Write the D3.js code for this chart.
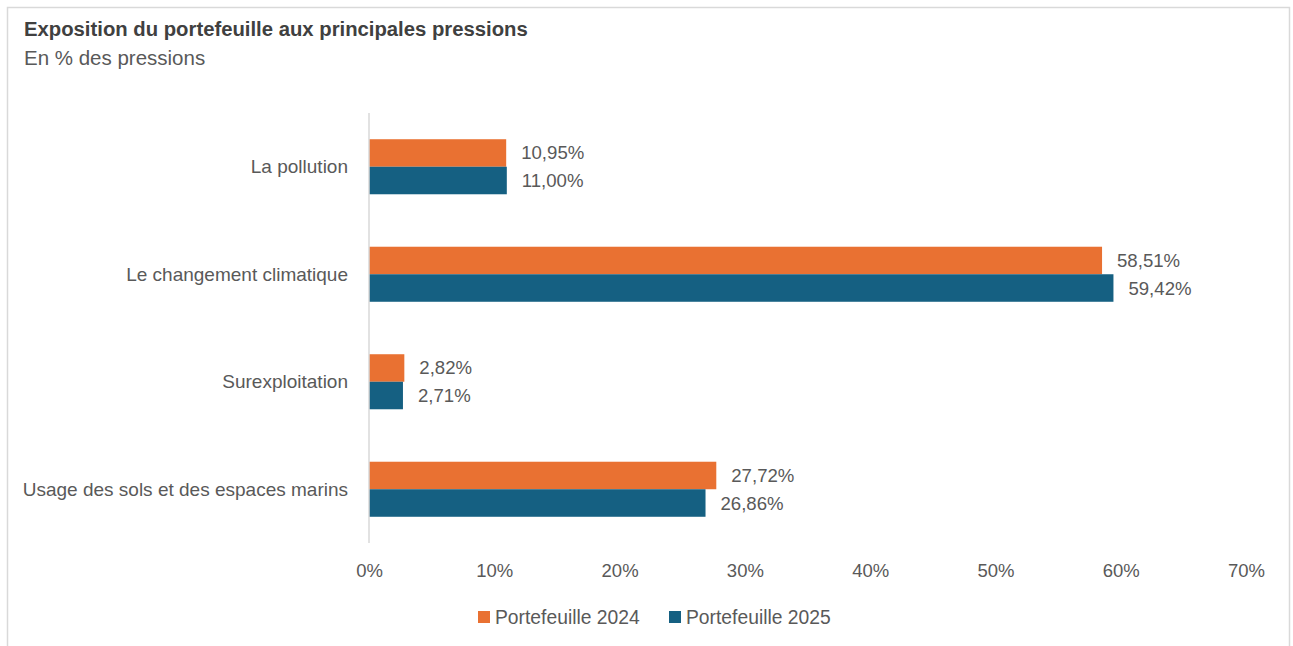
<!DOCTYPE html>
<html>
<head>
<meta charset="utf-8">
<script src="https://cdn.jsdelivr.net/npm/d3@7"></script>
<style>
  body { margin: 0; background: #fff; }
  text { font-family: "Liberation Sans", Arial, sans-serif; fill: #595959; }
</style>
</head>
<body>
<div id="chart"></div>
<script>
// data
var categories = ["La pollution", "Le changement climatique", "Surexploitation", "Usage des sols et des espaces marins"];
var seriesNames = ["Portefeuille 2024", "Portefeuille 2025"];
var values2024 = [10.95, 58.51, 2.82, 27.72];
var values2025 = [11.00, 59.42, 2.71, 26.86];
var tickValues = [0, 10, 20, 30, 40, 50, 60, 70];
var colors = ["#E97132", "#156082"];

var W = 1293, H = 646;
var margin = {top: 113, left: 369, right: 47, bottom: 103};
var width = W - margin.left - margin.right,
    height = H - margin.top - margin.bottom;

var svg = d3.select("#chart").append("svg")
    .attr("width", W)
    .attr("height", H);

// frame
svg.append("rect")
    .attr("x", 7.5).attr("y", 7.5)
    .attr("width", 1282).attr("height", 660)
    .attr("fill", "none")
    .attr("stroke", "#d9d9d9")
    .attr("stroke-width", 1.5);

// title
svg.append("text")
    .attr("x", 24).attr("y", 36)
    .style("font-weight", "bold")
    .style("font-size", "20.3px")
    .style("fill", "#404040")
    .text("Exposition du portefeuille aux principales pressions");

svg.append("text")
    .attr("x", 24).attr("y", 65)
    .style("font-size", "20.5px")
    .style("fill", "#595959")
    .text("En % des pressions");

var g = svg.append("g")
    .attr("transform", "translate(" + margin.left + "," + margin.top + ")");

// scales
var x = d3.scaleLinear().domain([0, 70]).range([0, width]);
var y = d3.scaleBand().domain(categories).range([0, height])
    .paddingInner(0.488).paddingOuter(0.244);
var y1 = d3.scaleBand().domain(seriesNames).range([0, y.bandwidth()]);

var rows = categories.map(function(c, i) {
  return {name: c, vals: [values2024[i], values2025[i]]};
});

var row = g.selectAll("g.row")
    .data(rows)
    .enter().append("g")
    .attr("class", "row")
    .attr("transform", function(d) { return "translate(0," + y(d.name) + ")"; });

var bar = row.selectAll("g.bar")
    .data(function(d) { return d.vals.map(function(v, j) { return {s: seriesNames[j], v: v, j: j}; }); })
    .enter().append("g")
    .attr("class", "bar");

bar.append("rect")
    .attr("x", 0)
    .attr("y", function(d) { return y1(d.s); })
    .attr("height", y1.bandwidth())
    .attr("width", function(d) { return x(d.v); })
    .attr("fill", function(d) { return colors[d.j]; });

// value labels
var fmt = function(v) { return v.toFixed(2).replace(".", ",") + "%"; };
bar.append("text")
    .attr("x", function(d) { return x(d.v) + 15; })
    .attr("y", function(d) { return y1(d.s) + y1.bandwidth() / 2; })
    .attr("dy", "0.35em")
    .style("font-size", "18.6px")
    .text(function(d) { return fmt(d.v); });

// category labels
row.append("text")
    .attr("x", -21)
    .attr("y", y.bandwidth() / 2)
    .attr("dy", "0.35em")
    .attr("text-anchor", "end")
    .style("font-size", "19px")
    .text(function(d) { return d.name; });

// vertical axis line
g.append("line")
    .attr("x1", 0).attr("x2", 0)
    .attr("y1", 0).attr("y2", height)
    .attr("stroke", "#d9d9d9")
    .attr("stroke-width", 1.5);

// x axis
var xAxis = g.append("g")
    .attr("transform", "translate(0," + height + ")")
    .call(d3.axisBottom(x).tickValues(tickValues).tickSize(0).tickPadding(21)
      .tickFormat(function(d) { return d + "%"; }));
xAxis.select(".domain").remove();
xAxis.selectAll("text")
    .style("font-size", "18.5px")
    .style("font-family", "'Liberation Sans', Arial, sans-serif")
    .attr("fill", "#595959");

// legend
var legend = svg.append("g").attr("transform", "translate(478, 617)");
var legendX = [0, 191];
var item = legend.selectAll("g")
    .data(seriesNames)
    .enter().append("g")
    .attr("transform", function(d, i) { return "translate(" + legendX[i] + ",0)"; });
item.append("rect")
    .attr("x", 0).attr("y", -6)
    .attr("width", 12).attr("height", 12)
    .attr("fill", function(d, i) { return colors[i]; });
item.append("text")
    .attr("x", 17).attr("y", 0)
    .attr("dy", "0.35em")
    .style("font-size", "19.3px")
    .text(function(d) { return d; });
</script>
</body>
</html>
